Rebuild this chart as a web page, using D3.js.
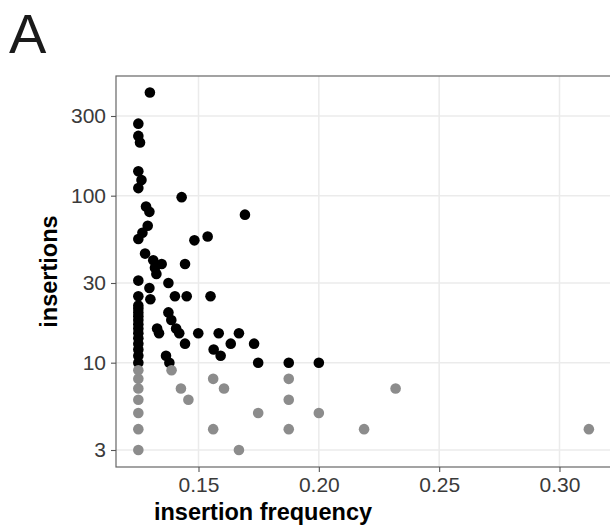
<!DOCTYPE html>
<html>
<head>
<meta charset="utf-8">
<script src="https://cdn.jsdelivr.net/npm/d3@7"></script>
<style>
  body { margin: 0; background: #fff; }
  svg { font-family: "Liberation Sans", Arial, sans-serif; }
</style>
</head>
<body>
<script>
// insertion frequency / insertion count
const frequency = [
  0.1298, 0.125, 0.125, 0.1257, 0.125, 0.1263, 0.125, 0.1430, 0.1282, 0.1296,
  0.1693, 0.1289, 0.1267, 0.125, 0.1483, 0.1538, 0.1278, 0.1312, 0.1347, 0.1319,
  0.1325, 0.1444, 0.125, 0.1296, 0.1375, 0.125, 0.1402, 0.1451, 0.155, 0.13,
  0.1375, 0.1387, 0.1328, 0.1336, 0.1407, 0.1420, 0.1444, 0.1499, 0.1584, 0.1668,
  0.1634, 0.1563, 0.1592, 0.1731, 0.1748, 0.1875, 0.2, 0.1365, 0.1379,
  0.125, 0.125, 0.125, 0.125, 0.125, 0.125, 0.125, 0.125, 0.125, 0.125,
  0.125, 0.125, 0.125,
  0.125, 0.125, 0.125, 0.125, 0.125, 0.125, 0.125,
  0.1388, 0.1427, 0.1458, 0.1561, 0.1606, 0.1561, 0.1668, 0.1748, 0.1875, 0.1875,
  0.1875, 0.2, 0.2188, 0.2319, 0.3122
]
const insertions = [
  415, 270, 228, 208, 140, 124, 111, 98, 86, 80,
  77, 66, 60, 55, 54, 57, 45, 41, 39, 37,
  34, 39, 31, 28, 30, 25, 25, 25, 25, 24,
  20, 18, 16, 15, 16, 15, 13, 15, 15, 15,
  13, 12, 11, 13, 10, 10, 10, 11, 10,
  10, 11, 12, 13, 14, 15, 16, 17, 18, 19,
  20, 21, 22,
  3, 4, 5, 6, 7, 8, 9,
  9, 7, 6, 8, 7, 4, 3, 5, 8, 6,
  4, 5, 4, 7, 4
]
const minInsertions = 10  // below this the point is drawn grey

const xTicks = [0.15, 0.20, 0.25, 0.30]
const yTicks = [3, 10, 30, 100, 300]

const w = 610
const h = 529
const panel = { left: 116, right: 612, top: 76, bottom: 467 }

const dataset = frequency.map((f, i) => ({ freq: f, ins: insertions[i] }))

const svg = d3.select("body")
  .append("svg")
  .attr("width", w)
  .attr("height", h)

const xScale = d3.scaleLinear()
  .domain([0.15, 0.30])
  .range([198.5, 559.5])
const yScale = d3.scaleLog()
  .domain([3, 300])
  .range([450, 116])

svg.append("text")
  .attr("x", 9)
  .attr("y", 53)
  .style("font-size", "56px")
  .style("fill", "#1a1a1a")
  .text("A")

// panel background + grid
svg.append("rect")
  .attr("x", panel.left)
  .attr("y", panel.top)
  .attr("width", panel.right - panel.left)
  .attr("height", panel.bottom - panel.top)
  .attr("fill", "#fff")

svg.append("g")
  .selectAll("line")
  .data(xTicks)
  .enter()
  .append("line")
  .attr("x1", d => xScale(d))
  .attr("x2", d => xScale(d))
  .attr("y1", panel.top)
  .attr("y2", panel.bottom)
  .attr("stroke", "#ebebeb")
  .attr("stroke-width", 1.5)

svg.append("g")
  .selectAll("line")
  .data(yTicks)
  .enter()
  .append("line")
  .attr("x1", panel.left)
  .attr("x2", panel.right)
  .attr("y1", d => yScale(d))
  .attr("y2", d => yScale(d))
  .attr("stroke", "#ebebeb")
  .attr("stroke-width", 1.5)

svg.append("g")
  .selectAll("circle")
  .data(dataset)
  .enter()
  .append("circle")
  .attr("cx", d => xScale(d.freq))
  .attr("cy", d => yScale(d.ins))
  .attr("r", 5.3)
  .attr("fill", d => d.ins >= minInsertions ? "#000000" : "#8c8c8c")

svg.append("rect")
  .attr("x", panel.left)
  .attr("y", panel.top)
  .attr("width", panel.right - panel.left)
  .attr("height", panel.bottom - panel.top)
  .attr("fill", "none")
  .attr("stroke", "#666")
  .attr("stroke-width", 1.2)

const xAxis = d3.axisBottom(xScale)
  .tickValues(xTicks)
  .tickFormat(d3.format(".2f"))
  .tickSize(5)
  .tickPadding(5)
const yAxis = d3.axisLeft(yScale)
  .tickValues(yTicks)
  .tickFormat(d3.format("d"))
  .tickSize(5)
  .tickPadding(5)

const gx = svg.append("g")
  .attr("transform", "translate(0," + panel.bottom + ")")
  .call(xAxis)
const gy = svg.append("g")
  .attr("transform", "translate(" + panel.left + ",0)")
  .call(yAxis)

;[gx, gy].forEach(g => {
  g.select(".domain").remove()
  g.selectAll(".tick line").attr("stroke", "#555").attr("stroke-width", 1.1)
  g.selectAll(".tick text")
    .style("font-size", "21px")
    .style("fill", "#3a3a3a")
    .style("font-family", "Liberation Sans, Arial, sans-serif")
})

svg.append("text")
  .attr("x", 263)
  .attr("y", 520)
  .attr("text-anchor", "middle")
  .style("font-size", "23.5px")
  .style("font-weight", "bold")
  .text("insertion frequency")

svg.append("text")
  .attr("transform", "translate(57," + ((panel.top + panel.bottom) / 2) + ") rotate(-90)")
  .attr("text-anchor", "middle")
  .style("font-size", "23.5px")
  .style("font-weight", "bold")
  .text("insertions")
</script>
</body>
</html>
